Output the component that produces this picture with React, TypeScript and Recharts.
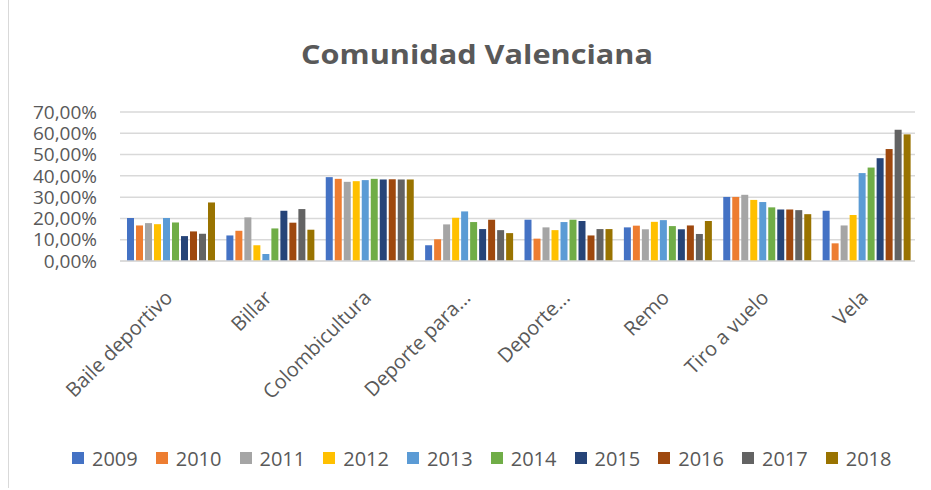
import { BarChart, Bar, XAxis, YAxis, CartesianGrid, Legend } from 'recharts';

const categories = ['Baile deportivo', 'Billar', 'Colombicultura', 'Deporte para...', 'Deporte...', 'Remo', 'Tiro a vuelo', 'Vela'];
const years = ['2009', '2010', '2011', '2012', '2013', '2014', '2015', '2016', '2017', '2018'];
const colors = ['#4472C4', '#ED7D31', '#A5A5A5', '#FFC000', '#5B9BD5', '#70AD47', '#264478', '#9E480E', '#636363', '#997300'];

// porcentajes por año, en el orden de categories
const v2009 = [20.2, 12.0, 39.4, 7.4, 19.4, 15.8, 30.1, 23.6];
const v2010 = [16.7, 14.2, 38.6, 10.2, 10.5, 16.6, 30.1, 8.3];
const v2011 = [17.8, 20.5, 37.2, 17.2, 15.8, 14.9, 31.1, 16.7];
const v2012 = [17.3, 7.4, 37.5, 20.3, 14.5, 18.4, 28.7, 21.6];
const v2013 = [20.2, 3.3, 38.0, 23.3, 18.3, 19.2, 27.7, 41.3];
const v2014 = [18.1, 15.3, 38.6, 18.3, 19.4, 16.4, 25.2, 43.9];
const v2015 = [11.7, 23.6, 38.3, 15.0, 18.8, 14.9, 24.2, 48.3];
const v2016 = [13.9, 18.0, 38.4, 19.4, 12.0, 16.7, 24.2, 52.6];
const v2017 = [12.8, 24.4, 38.3, 14.5, 15.0, 12.7, 23.9, 61.7];
const v2018 = [27.5, 14.7, 38.3, 13.1, 15.0, 18.8, 22.0, 59.5];
const series = [v2009, v2010, v2011, v2012, v2013, v2014, v2015, v2016, v2017, v2018];

const yTicks = [0, 10, 20, 30, 40, 50, 60, 70];

const data = categories.map((name, i) => {
  const row: any = { name };
  years.forEach((y, j) => { row[y] = series[j][i]; });
  return row;
});

const FONT = '"Open Sans", sans-serif';
const GREY = '#595959';

const fmt = (v: number) => v.toFixed(2).replace('.', ',') + '%';

const XTick = (props: any) => {
  const { x, y, payload } = props;
  const ax = x + 4;
  const ay = y + 30;
  return (
    <text x={ax} y={ay} textAnchor="end" fontSize={20} fontFamily={FONT} fill={GREY} transform={`rotate(-45, ${ax}, ${ay})`}>
      {payload.value}
    </text>
  );
};

const renderLegend = (props: any) => {
  const { payload } = props;
  return (
    <div style={{ display: 'flex', justifyContent: 'flex-start', paddingLeft: 72, height: 26, alignItems: 'center', fontFamily: FONT, fontSize: 20, color: GREY }}>
      {payload.map((p: any) => (
        <div key={p.value} style={{ display: 'flex', alignItems: 'center', marginRight: 18 }}>
          <span style={{ display: 'inline-block', width: 12, height: 12, background: p.color, marginRight: 8 }} />
          <span>{p.value}</span>
        </div>
      ))}
    </div>
  );
};

export default function App() {
  return (
    <div style={{ position: 'absolute', left: 0, top: 0, width: 931, height: 490, background: '#fff' }}>
      <div style={{ position: 'absolute', left: 8, top: 0, width: 1, height: 488, background: '#D9D9D9' }} />
      <svg style={{ position: 'absolute', left: 0, top: 0 }} width={931} height={90}>
        <text x={477} y={64} textAnchor="middle" fontSize={27} fontWeight="bold" fontFamily={FONT} fill={GREY} textLength={352} lengthAdjust="spacingAndGlyphs">
          Comunidad Valenciana
        </text>
      </svg>
      <BarChart width={931} height={490} data={data} margin={{ top: 112, right: 16, left: 0, bottom: 173 }} barCategoryGap={7} barGap={2}>
        <CartesianGrid vertical={false} stroke="#D9D9D9" strokeWidth={1.5} />
        <XAxis dataKey="name" interval={0} tickLine={false} axisLine={{ stroke: '#D9D9D9', strokeWidth: 1.5 }} height={30} tick={<XTick />} />
        <YAxis domain={[0, 70]} ticks={yTicks} tickFormatter={fmt} width={120} axisLine={false} tickLine={false} tickSize={0} tickMargin={23}
          tick={{ fontSize: 19, fontFamily: FONT, fill: GREY }} interval={0} />
        <Legend verticalAlign="bottom" content={renderLegend} wrapperStyle={{ left: 0, width: 931, top: 445 }} />
        {years.map((y, j) => (
          <Bar key={y} dataKey={y} fill={colors[j]} isAnimationActive={false} />
        ))}
      </BarChart>
    </div>
  );
}
